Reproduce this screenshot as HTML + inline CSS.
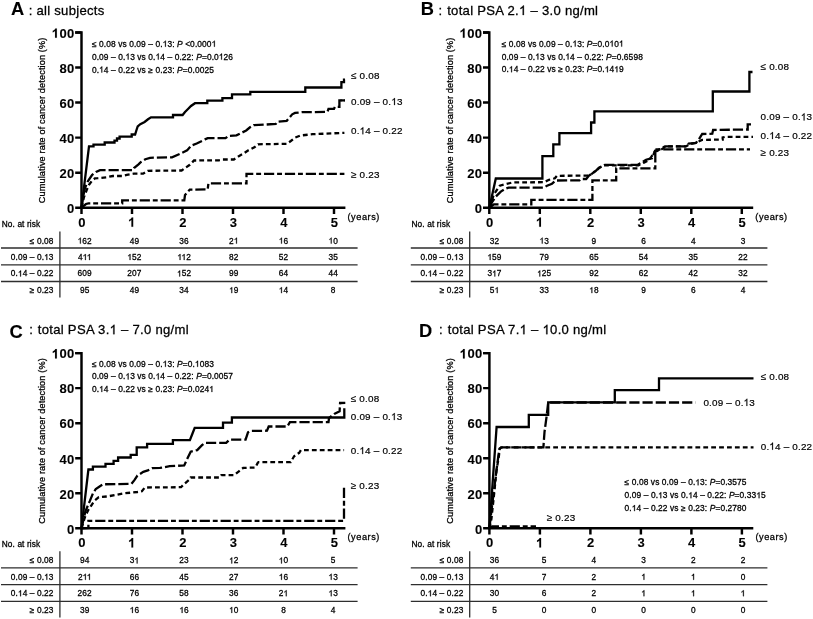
<!DOCTYPE html>
<html><head><meta charset="utf-8"><style>
html,body{margin:0;padding:0;background:#fff;}
svg{display:block;will-change:transform;filter:blur(0.3px);}
text{font-family:"Liberation Sans", sans-serif;fill:#000;stroke:#000;stroke-width:0.28px;}
text[font-weight=bold]{stroke-width:0.1px;}
</style></head><body>
<svg width="813" height="619" viewBox="0 0 813 619">
<rect width="813" height="619" fill="#fff"/>
<text x="11.10" y="15.40" font-size="18.3" font-weight="bold" >A</text>
<text x="28.80" y="14.90" font-size="13.1" letter-spacing="0.28"  class="f1">:</text>
<text x="36.45" y="14.90" font-size="13.1" letter-spacing="0.28"  class="f1">all subjects</text>
<text transform="translate(44.90,120.40) rotate(-90)" text-anchor="middle" font-size="9.2" letter-spacing="0.11">Cumulative rate of cancer detection (%)</text>
<path d="M75.20,32.50H81.5V207.7H345.40" fill="none" stroke="#000" stroke-width="2.45"/>
<path d="M75.20,207.70H81.5 M75.20,172.66H81.5 M75.20,137.62H81.5 M75.20,102.58H81.5 M75.20,67.54H81.5 M75.20,32.50H81.5 M81.50,207.7V214.00 M132.00,207.7V214.00 M182.50,207.7V214.00 M233.00,207.7V214.00 M283.50,207.7V214.00 M334.00,207.7V214.00" stroke="#000" stroke-width="2.45" fill="none"/>
<text x="74.60" y="213.00" font-size="13" font-weight="bold" letter-spacing="0.3" text-anchor="end" >0</text>
<text x="74.60" y="177.96" font-size="13" font-weight="bold" letter-spacing="0.3" text-anchor="end" >20</text>
<text x="74.60" y="142.92" font-size="13" font-weight="bold" letter-spacing="0.3" text-anchor="end" >40</text>
<text x="74.60" y="107.88" font-size="13" font-weight="bold" letter-spacing="0.3" text-anchor="end" >60</text>
<text x="74.60" y="72.84" font-size="13" font-weight="bold" letter-spacing="0.3" text-anchor="end" >80</text>
<text x="74.60" y="37.80" font-size="13" font-weight="bold" letter-spacing="0.3" text-anchor="end" >00</text>
<path transform="translate(51.76,37.80) scale(0.00635,-0.00635)" d="M800 0H519V1059C416 963 294 892 156 846V1101C229 1125 308 1170 393 1236C478 1303 537 1381 570 1472H800Z" fill="#000" stroke="#000" stroke-width="15.8"/>
<text x="81.95" y="226.80" font-size="13" font-weight="bold" letter-spacing="0.3" text-anchor="middle" >0</text>
<path transform="translate(128.11,226.80) scale(0.00635,-0.00635)" d="M800 0H519V1059C416 963 294 892 156 846V1101C229 1125 308 1170 393 1236C478 1303 537 1381 570 1472H800Z" fill="#000" stroke="#000" stroke-width="15.8"/>
<text x="182.95" y="226.80" font-size="13" font-weight="bold" letter-spacing="0.3" text-anchor="middle" >2</text>
<text x="233.45" y="226.80" font-size="13" font-weight="bold" letter-spacing="0.3" text-anchor="middle" >3</text>
<text x="283.95" y="226.80" font-size="13" font-weight="bold" letter-spacing="0.3" text-anchor="middle" >4</text>
<text x="334.45" y="226.80" font-size="13" font-weight="bold" letter-spacing="0.3" text-anchor="middle" >5</text>
<text x="347.50" y="219.70" font-size="9.2" letter-spacing="0.55"  class="f1">(years)</text>
<text x="91.90" y="46.70" font-size="8.4" letter-spacing="0.1"  class="f1">≤ 0.08 vs 0.09 – 0. 3: <tspan font-style="italic">P</tspan> &lt;0.000 </text>
<text x="91.90" y="59.60" font-size="8.4" letter-spacing="0.1"  class="f1">0.09 – 0. 3 vs 0. 4 – 0.22: <tspan font-style="italic">P</tspan>=0.0 26</text>
<text x="91.90" y="72.50" font-size="8.4" letter-spacing="0.1"  class="f1">0. 4 – 0.22 vs ≥ 0.23: <tspan font-style="italic">P</tspan>=0.0025</text>
<text x="351.00" y="79.30" font-size="9.9" letter-spacing="0.2" style="stroke-width:0.2px"  class="f1">≤ 0.08</text>
<text x="351.00" y="105.10" font-size="9.9" letter-spacing="0.2" style="stroke-width:0.2px"  class="f1">0.09 – 0. 3</text>
<text x="351.00" y="134.30" font-size="9.9" letter-spacing="0.2" style="stroke-width:0.2px"  class="f1">0. 4 – 0.22</text>
<text x="351.00" y="178.40" font-size="9.9" letter-spacing="0.2" style="stroke-width:0.2px"  class="f1">≥ 0.23</text>
<path d="M81.50,207.70 L89.00,146.40 L93.50,146.40 L93.50,144.60 L104.70,144.60 L104.70,142.50 L114.50,142.50 L114.50,140.60 L117.00,140.60 L117.00,138.50 L119.60,138.50 L119.60,136.70 L131.70,136.70 L131.70,134.50 L135.10,134.50 L136.50,130.00 L137.70,126.40 L140.30,124.20 L144.60,122.00 L148.00,119.30 L151.00,117.40 L173.00,117.40 L173.00,115.00 L182.60,115.00 L185.00,112.00 L188.00,109.00 L191.00,106.00 L195.00,103.20 L207.30,103.20 L207.30,100.60 L222.40,100.60 L222.40,98.10 L232.00,98.10 L232.00,94.40 L250.30,94.40 L250.30,91.80 L305.30,91.80 L305.30,87.50 L341.40,87.50 L341.40,82.20 L344.00,82.20 L344.00,79.60 L345.00,79.60" fill="none" stroke="#000" stroke-width="2.3" />
<path d="M81.50,207.70 L83.00,197.00 L85.00,188.00 L88.00,181.00 L92.00,175.00 L96.00,172.00 L100.00,170.20 L132.70,170.20 L134.00,168.00 L138.50,164.40 L141.00,162.00 L145.40,159.20 L150.00,157.80 L172.00,157.30 L180.20,153.80 L187.10,150.40 L191.20,145.60 L196.70,143.50 L205.00,139.40 L207.70,138.20 L225.50,138.20 L228.30,136.00 L236.50,135.30 L240.70,133.20 L246.20,130.50 L250.00,127.30 L253.70,125.20 L275.70,124.00 L277.10,121.80 L286.70,120.80 L292.20,114.30 L295.00,112.90 L301.80,112.20 L327.50,111.90 L328.50,108.80 L334.00,108.80 L335.00,106.80 L339.40,106.80 L339.40,100.40 L345.00,100.40" fill="none" stroke="#000" stroke-width="2.3" stroke-dasharray="10.2,3"/>
<path d="M81.50,207.70 L84.00,197.00 L86.70,190.00 L89.00,184.80 L92.00,180.70 L94.90,178.40 L97.80,178.20 L107.00,177.20 L112.90,176.00 L122.20,176.00 L126.80,174.90 L133.80,173.70 L143.10,173.70 L147.80,170.80 L181.60,170.50 L185.70,167.60 L189.80,164.80 L194.00,160.50 L218.70,160.30 L222.80,159.50 L233.80,159.50 L238.40,156.40 L243.90,153.30 L248.00,150.50 L254.40,147.30 L258.00,144.30 L286.70,143.80 L290.80,141.00 L295.00,137.60 L300.40,135.50 L312.80,134.20 L344.40,132.80" fill="none" stroke="#000" stroke-width="2.3" stroke-dasharray="4.8,3.1"/>
<path d="M340.60,100.40 L345.00,100.40" fill="none" stroke="#000" stroke-width="2.3" stroke-dasharray="10.2,3"/>
<path d="M81.50,207.70 L86.00,204.00 L88.50,203.40 L122.20,203.40 L122.20,200.30 L184.30,200.30 L185.00,195.00 L189.80,189.60 L207.70,189.40 L208.40,183.40 L246.50,183.40 L246.50,173.80 L344.40,173.80" fill="none" stroke="#000" stroke-width="2.3" stroke-dasharray="10.2,2.9,4.9,2.9"/>
<text x="1.70" y="226.60" font-size="8.3" letter-spacing="0.12"  class="f1">No. at risk</text>
<text x="53.60" y="243.60" font-size="8.3" letter-spacing="0.12" text-anchor="end"  class="f1">≤ 0.08</text>
<text x="84.70" y="243.60" font-size="8.3" letter-spacing="0.12" text-anchor="middle"  class="f1"> 62</text>
<text x="134.40" y="243.60" font-size="8.3" letter-spacing="0.12" text-anchor="middle"  class="f1">49</text>
<text x="184.10" y="243.60" font-size="8.3" letter-spacing="0.12" text-anchor="middle"  class="f1">36</text>
<text x="233.80" y="243.60" font-size="8.3" letter-spacing="0.12" text-anchor="middle"  class="f1">2 </text>
<text x="283.50" y="243.60" font-size="8.3" letter-spacing="0.12" text-anchor="middle"  class="f1"> 6</text>
<text x="333.20" y="243.60" font-size="8.3" letter-spacing="0.12" text-anchor="middle"  class="f1"> 0</text>
<text x="53.60" y="260.00" font-size="8.3" letter-spacing="0.12" text-anchor="end"  class="f1">0.09 – 0. 3</text>
<text x="84.70" y="260.00" font-size="8.3" letter-spacing="0.12" text-anchor="middle"  class="f1">4 <tspan dx="-0.616"> </tspan></text>
<text x="134.40" y="260.00" font-size="8.3" letter-spacing="0.12" text-anchor="middle"  class="f1"> 52</text>
<text x="184.10" y="260.00" font-size="8.3" letter-spacing="0.12" text-anchor="middle"  class="f1"> <tspan dx="-0.616"> </tspan>2</text>
<text x="233.80" y="260.00" font-size="8.3" letter-spacing="0.12" text-anchor="middle"  class="f1">82</text>
<text x="283.50" y="260.00" font-size="8.3" letter-spacing="0.12" text-anchor="middle"  class="f1">52</text>
<text x="333.20" y="260.00" font-size="8.3" letter-spacing="0.12" text-anchor="middle"  class="f1">35</text>
<text x="53.60" y="276.40" font-size="8.3" letter-spacing="0.12" text-anchor="end"  class="f1">0. 4 – 0.22</text>
<text x="84.70" y="276.40" font-size="8.3" letter-spacing="0.12" text-anchor="middle"  class="f1">609</text>
<text x="134.40" y="276.40" font-size="8.3" letter-spacing="0.12" text-anchor="middle"  class="f1">207</text>
<text x="184.10" y="276.40" font-size="8.3" letter-spacing="0.12" text-anchor="middle"  class="f1"> 52</text>
<text x="233.80" y="276.40" font-size="8.3" letter-spacing="0.12" text-anchor="middle"  class="f1">99</text>
<text x="283.50" y="276.40" font-size="8.3" letter-spacing="0.12" text-anchor="middle"  class="f1">64</text>
<text x="333.20" y="276.40" font-size="8.3" letter-spacing="0.12" text-anchor="middle"  class="f1">44</text>
<text x="53.60" y="293.10" font-size="8.3" letter-spacing="0.12" text-anchor="end"  class="f1">≥ 0.23</text>
<text x="84.70" y="293.10" font-size="8.3" letter-spacing="0.12" text-anchor="middle"  class="f1">95</text>
<text x="134.40" y="293.10" font-size="8.3" letter-spacing="0.12" text-anchor="middle"  class="f1">49</text>
<text x="184.10" y="293.10" font-size="8.3" letter-spacing="0.12" text-anchor="middle"  class="f1">34</text>
<text x="233.80" y="293.10" font-size="8.3" letter-spacing="0.12" text-anchor="middle"  class="f1"> 9</text>
<text x="283.50" y="293.10" font-size="8.3" letter-spacing="0.12" text-anchor="middle"  class="f1"> 4</text>
<text x="333.20" y="293.10" font-size="8.3" letter-spacing="0.12" text-anchor="middle"  class="f1">8</text>
<path d="M1.00,248.00H357.60 M1.00,264.80H357.60 M1.00,281.50H357.60" stroke="#2e2e2e" stroke-width="1.3" fill="none"/>
<path d="M59.90,231.50V297.60" stroke="#2e2e2e" stroke-width="1.3" fill="none"/>
<text x="420.70" y="15.20" font-size="18.3" font-weight="bold" >B</text>
<text x="438.60" y="15.00" font-size="13.1" letter-spacing="0.28"  class="f1">:</text>
<text x="447.20" y="15.00" font-size="13.1" letter-spacing="0.28"  class="f1">total PSA 2.  – 3.0 ng/ml</text>
<text transform="translate(452.70,120.40) rotate(-90)" text-anchor="middle" font-size="9.2" letter-spacing="0.11">Cumulative rate of cancer detection (%)</text>
<path d="M483.00,32.50H489.3V207.7H753.20" fill="none" stroke="#000" stroke-width="2.45"/>
<path d="M483.00,207.70H489.3 M483.00,172.66H489.3 M483.00,137.62H489.3 M483.00,102.58H489.3 M483.00,67.54H489.3 M483.00,32.50H489.3 M489.30,207.7V214.00 M539.80,207.7V214.00 M590.30,207.7V214.00 M640.80,207.7V214.00 M691.30,207.7V214.00 M741.80,207.7V214.00" stroke="#000" stroke-width="2.45" fill="none"/>
<text x="482.40" y="213.00" font-size="13" font-weight="bold" letter-spacing="0.3" text-anchor="end" >0</text>
<text x="482.40" y="177.96" font-size="13" font-weight="bold" letter-spacing="0.3" text-anchor="end" >20</text>
<text x="482.40" y="142.92" font-size="13" font-weight="bold" letter-spacing="0.3" text-anchor="end" >40</text>
<text x="482.40" y="107.88" font-size="13" font-weight="bold" letter-spacing="0.3" text-anchor="end" >60</text>
<text x="482.40" y="72.84" font-size="13" font-weight="bold" letter-spacing="0.3" text-anchor="end" >80</text>
<text x="482.40" y="37.80" font-size="13" font-weight="bold" letter-spacing="0.3" text-anchor="end" >00</text>
<path transform="translate(459.56,37.80) scale(0.00635,-0.00635)" d="M800 0H519V1059C416 963 294 892 156 846V1101C229 1125 308 1170 393 1236C478 1303 537 1381 570 1472H800Z" fill="#000" stroke="#000" stroke-width="15.8"/>
<text x="489.75" y="226.80" font-size="13" font-weight="bold" letter-spacing="0.3" text-anchor="middle" >0</text>
<path transform="translate(535.91,226.80) scale(0.00635,-0.00635)" d="M800 0H519V1059C416 963 294 892 156 846V1101C229 1125 308 1170 393 1236C478 1303 537 1381 570 1472H800Z" fill="#000" stroke="#000" stroke-width="15.8"/>
<text x="590.75" y="226.80" font-size="13" font-weight="bold" letter-spacing="0.3" text-anchor="middle" >2</text>
<text x="641.25" y="226.80" font-size="13" font-weight="bold" letter-spacing="0.3" text-anchor="middle" >3</text>
<text x="691.75" y="226.80" font-size="13" font-weight="bold" letter-spacing="0.3" text-anchor="middle" >4</text>
<text x="742.25" y="226.80" font-size="13" font-weight="bold" letter-spacing="0.3" text-anchor="middle" >5</text>
<text x="755.30" y="219.70" font-size="9.2" letter-spacing="0.55"  class="f1">(years)</text>
<text x="501.70" y="46.60" font-size="8.4" letter-spacing="0.1"  class="f1">≤ 0.08 vs 0.09 – 0. 3: <tspan font-style="italic">P</tspan>=0.0 0 </text>
<text x="501.70" y="59.60" font-size="8.4" letter-spacing="0.1"  class="f1">0.09 – 0. 3 vs 0. 4 – 0.22: <tspan font-style="italic">P</tspan>=0.6598</text>
<text x="501.70" y="72.20" font-size="8.4" letter-spacing="0.1"  class="f1">0. 4 – 0.22 vs ≥ 0.23: <tspan font-style="italic">P</tspan>=0. 4 9</text>
<text x="760.60" y="70.20" font-size="9.9" letter-spacing="0.2" style="stroke-width:0.2px"  class="f1">≤ 0.08</text>
<text x="760.60" y="120.40" font-size="9.9" letter-spacing="0.2" style="stroke-width:0.2px"  class="f1">0.09 – 0. 3</text>
<text x="760.60" y="139.10" font-size="9.9" letter-spacing="0.2" style="stroke-width:0.2px"  class="f1">0. 4 – 0.22</text>
<text x="760.60" y="155.50" font-size="9.9" letter-spacing="0.2" style="stroke-width:0.2px"  class="f1">≥ 0.23</text>
<path d="M489.40,207.70 L495.80,178.50 L542.40,178.50 L542.40,156.10 L553.30,156.10 L553.30,144.40 L559.40,144.40 L559.40,133.20 L591.10,133.20 L591.10,122.50 L594.40,122.50 L594.40,111.30 L712.80,111.30 L712.80,91.50 L749.40,91.50 L749.40,72.00 L752.50,72.00" fill="none" stroke="#000" stroke-width="2.3" />
<path d="M489.40,207.70 L491.90,202.40 L495.80,196.50 L500.80,191.60 L505.70,188.60 L508.60,187.60 L544.00,187.60 L547.00,185.70 L552.00,183.70 L554.90,181.20 L556.00,180.50 L579.40,180.40 L580.70,179.00 L586.20,179.00 L589.00,175.60 L595.90,170.80 L598.90,167.80 L604.80,164.90 L637.20,164.90 L641.70,162.60 L646.10,159.70 L652.00,158.20 L655.00,150.80 L657.90,150.10 L662.30,147.90 L665.00,146.40 L686.00,146.40 L688.70,143.50 L696.10,142.80 L699.00,139.10 L702.20,134.00 L712.30,133.70 L713.10,130.00 L747.70,129.50 L747.70,124.40 L751.00,124.40" fill="none" stroke="#000" stroke-width="2.3" stroke-dasharray="10.2,3"/>
<path d="M489.40,207.70 L493.90,194.50 L497.80,188.60 L499.80,185.70 L505.70,184.20 L512.60,182.40 L544.00,182.20 L549.00,179.80 L554.90,178.30 L556.90,175.80 L587.60,175.60 L590.30,175.00 L595.80,170.80 L600.00,167.40 L604.10,165.30 L638.40,165.30 L643.90,162.60 L649.40,159.80 L654.90,151.60 L660.40,150.20 L665.90,146.40 L686.00,146.40 L690.00,144.00 L696.10,142.80 L702.00,139.90 L722.70,139.50 L722.70,137.50 L725.00,136.90 L753.00,136.90" fill="none" stroke="#000" stroke-width="2.3" stroke-dasharray="4.8,3.1"/>
<path d="M489.40,207.70 L493.90,204.40 L531.30,204.40 L531.30,199.80 L592.40,199.80 L592.40,180.40 L616.20,180.40 L616.20,168.30 L655.30,168.30 L655.30,149.40 L750.00,149.40" fill="none" stroke="#000" stroke-width="2.3" stroke-dasharray="10.2,2.9,4.9,2.9"/>
<text x="411.50" y="226.60" font-size="8.3" letter-spacing="0.12"  class="f1">No. at risk</text>
<text x="463.40" y="243.60" font-size="8.3" letter-spacing="0.12" text-anchor="end"  class="f1">≤ 0.08</text>
<text x="494.50" y="243.60" font-size="8.3" letter-spacing="0.12" text-anchor="middle"  class="f1">32</text>
<text x="544.20" y="243.60" font-size="8.3" letter-spacing="0.12" text-anchor="middle"  class="f1"> 3</text>
<text x="593.90" y="243.60" font-size="8.3" letter-spacing="0.12" text-anchor="middle"  class="f1">9</text>
<text x="643.60" y="243.60" font-size="8.3" letter-spacing="0.12" text-anchor="middle"  class="f1">6</text>
<text x="693.30" y="243.60" font-size="8.3" letter-spacing="0.12" text-anchor="middle"  class="f1">4</text>
<text x="743.00" y="243.60" font-size="8.3" letter-spacing="0.12" text-anchor="middle"  class="f1">3</text>
<text x="463.40" y="260.00" font-size="8.3" letter-spacing="0.12" text-anchor="end"  class="f1">0.09 – 0. 3</text>
<text x="494.50" y="260.00" font-size="8.3" letter-spacing="0.12" text-anchor="middle"  class="f1"> 59</text>
<text x="544.20" y="260.00" font-size="8.3" letter-spacing="0.12" text-anchor="middle"  class="f1">79</text>
<text x="593.90" y="260.00" font-size="8.3" letter-spacing="0.12" text-anchor="middle"  class="f1">65</text>
<text x="643.60" y="260.00" font-size="8.3" letter-spacing="0.12" text-anchor="middle"  class="f1">54</text>
<text x="693.30" y="260.00" font-size="8.3" letter-spacing="0.12" text-anchor="middle"  class="f1">35</text>
<text x="743.00" y="260.00" font-size="8.3" letter-spacing="0.12" text-anchor="middle"  class="f1">22</text>
<text x="463.40" y="276.40" font-size="8.3" letter-spacing="0.12" text-anchor="end"  class="f1">0. 4 – 0.22</text>
<text x="494.50" y="276.40" font-size="8.3" letter-spacing="0.12" text-anchor="middle"  class="f1">3 7</text>
<text x="544.20" y="276.40" font-size="8.3" letter-spacing="0.12" text-anchor="middle"  class="f1"> 25</text>
<text x="593.90" y="276.40" font-size="8.3" letter-spacing="0.12" text-anchor="middle"  class="f1">92</text>
<text x="643.60" y="276.40" font-size="8.3" letter-spacing="0.12" text-anchor="middle"  class="f1">62</text>
<text x="693.30" y="276.40" font-size="8.3" letter-spacing="0.12" text-anchor="middle"  class="f1">42</text>
<text x="743.00" y="276.40" font-size="8.3" letter-spacing="0.12" text-anchor="middle"  class="f1">32</text>
<text x="463.40" y="293.10" font-size="8.3" letter-spacing="0.12" text-anchor="end"  class="f1">≥ 0.23</text>
<text x="494.50" y="293.10" font-size="8.3" letter-spacing="0.12" text-anchor="middle"  class="f1">5 </text>
<text x="544.20" y="293.10" font-size="8.3" letter-spacing="0.12" text-anchor="middle"  class="f1">33</text>
<text x="593.90" y="293.10" font-size="8.3" letter-spacing="0.12" text-anchor="middle"  class="f1"> 8</text>
<text x="643.60" y="293.10" font-size="8.3" letter-spacing="0.12" text-anchor="middle"  class="f1">9</text>
<text x="693.30" y="293.10" font-size="8.3" letter-spacing="0.12" text-anchor="middle"  class="f1">6</text>
<text x="743.00" y="293.10" font-size="8.3" letter-spacing="0.12" text-anchor="middle"  class="f1">4</text>
<path d="M410.80,248.00H767.40 M410.80,264.80H767.40 M410.80,281.50H767.40" stroke="#2e2e2e" stroke-width="1.3" fill="none"/>
<path d="M469.70,231.50V297.60" stroke="#2e2e2e" stroke-width="1.3" fill="none"/>
<text x="9.40" y="337.90" font-size="18.3" font-weight="bold" >C</text>
<text x="29.30" y="334.20" font-size="13.1" letter-spacing="0.28"  class="f1">:</text>
<text x="37.80" y="334.20" font-size="13.1" letter-spacing="0.28"  class="f1">total PSA 3.  – 7.0 ng/ml</text>
<text transform="translate(44.90,441.00) rotate(-90)" text-anchor="middle" font-size="9.2" letter-spacing="0.11">Cumulative rate of cancer detection (%)</text>
<path d="M75.20,353.10H81.5V528.3H345.40" fill="none" stroke="#000" stroke-width="2.45"/>
<path d="M75.20,528.30H81.5 M75.20,493.26H81.5 M75.20,458.22H81.5 M75.20,423.18H81.5 M75.20,388.14H81.5 M75.20,353.10H81.5 M81.50,528.3V534.60 M132.00,528.3V534.60 M182.50,528.3V534.60 M233.00,528.3V534.60 M283.50,528.3V534.60 M334.00,528.3V534.60" stroke="#000" stroke-width="2.45" fill="none"/>
<text x="74.60" y="533.60" font-size="13" font-weight="bold" letter-spacing="0.3" text-anchor="end" >0</text>
<text x="74.60" y="498.56" font-size="13" font-weight="bold" letter-spacing="0.3" text-anchor="end" >20</text>
<text x="74.60" y="463.52" font-size="13" font-weight="bold" letter-spacing="0.3" text-anchor="end" >40</text>
<text x="74.60" y="428.48" font-size="13" font-weight="bold" letter-spacing="0.3" text-anchor="end" >60</text>
<text x="74.60" y="393.44" font-size="13" font-weight="bold" letter-spacing="0.3" text-anchor="end" >80</text>
<text x="74.60" y="358.40" font-size="13" font-weight="bold" letter-spacing="0.3" text-anchor="end" >00</text>
<path transform="translate(51.76,358.40) scale(0.00635,-0.00635)" d="M800 0H519V1059C416 963 294 892 156 846V1101C229 1125 308 1170 393 1236C478 1303 537 1381 570 1472H800Z" fill="#000" stroke="#000" stroke-width="15.8"/>
<text x="81.95" y="547.40" font-size="13" font-weight="bold" letter-spacing="0.3" text-anchor="middle" >0</text>
<path transform="translate(128.11,547.40) scale(0.00635,-0.00635)" d="M800 0H519V1059C416 963 294 892 156 846V1101C229 1125 308 1170 393 1236C478 1303 537 1381 570 1472H800Z" fill="#000" stroke="#000" stroke-width="15.8"/>
<text x="182.95" y="547.40" font-size="13" font-weight="bold" letter-spacing="0.3" text-anchor="middle" >2</text>
<text x="233.45" y="547.40" font-size="13" font-weight="bold" letter-spacing="0.3" text-anchor="middle" >3</text>
<text x="283.95" y="547.40" font-size="13" font-weight="bold" letter-spacing="0.3" text-anchor="middle" >4</text>
<text x="334.45" y="547.40" font-size="13" font-weight="bold" letter-spacing="0.3" text-anchor="middle" >5</text>
<text x="347.50" y="540.30" font-size="9.2" letter-spacing="0.55"  class="f1">(years)</text>
<text x="91.90" y="366.80" font-size="8.4" letter-spacing="0.1"  class="f1">≤ 0.08 vs 0.09 – 0. 3: <tspan font-style="italic">P</tspan>=0. 083</text>
<text x="91.90" y="379.40" font-size="8.4" letter-spacing="0.1"  class="f1">0.09 – 0. 3 vs 0. 4 – 0.22: <tspan font-style="italic">P</tspan>=0.0057</text>
<text x="91.90" y="392.00" font-size="8.4" letter-spacing="0.1"  class="f1">0. 4 – 0.22 vs ≥ 0.23: <tspan font-style="italic">P</tspan>=0.024 </text>
<text x="350.80" y="401.60" font-size="9.9" letter-spacing="0.2" style="stroke-width:0.2px"  class="f1">≤ 0.08</text>
<text x="350.80" y="420.10" font-size="9.9" letter-spacing="0.2" style="stroke-width:0.2px"  class="f1">0.09 – 0. 3</text>
<text x="350.80" y="454.10" font-size="9.9" letter-spacing="0.2" style="stroke-width:0.2px"  class="f1">0. 4 – 0.22</text>
<text x="350.80" y="488.50" font-size="9.9" letter-spacing="0.2" style="stroke-width:0.2px"  class="f1">≥ 0.23</text>
<path d="M81.50,528.30 L88.40,469.50 L92.90,469.50 L92.90,466.70 L105.50,466.70 L105.50,463.80 L113.60,463.80 L113.60,460.80 L118.10,460.80 L118.10,457.50 L130.70,457.50 L130.70,454.90 L136.70,454.90 L136.70,447.40 L147.10,447.40 L147.10,443.90 L172.90,443.90 L172.90,440.10 L189.90,440.10 L192.30,434.00 L194.70,427.80 L223.00,427.80 L223.00,422.60 L231.90,422.60 L231.90,417.50 L344.30,417.50 L344.30,408.30" fill="none" stroke="#000" stroke-width="2.3" />
<path d="M81.50,528.30 L85.40,511.30 L89.90,500.90 L92.90,493.50 L95.80,489.00 L100.30,486.00 L103.20,484.30 L131.50,483.80 L134.40,480.10 L137.40,475.60 L143.30,471.90 L147.80,470.40 L152.30,468.20 L160.00,467.90 L169.70,466.20 L184.20,465.40 L187.50,458.20 L190.70,451.70 L197.20,450.10 L202.00,445.20 L205.20,442.80 L226.20,442.80 L229.50,439.60 L245.60,439.60 L248.00,432.30 L250.50,431.00 L267.00,430.70 L268.70,426.50 L287.30,426.50 L289.90,422.20 L328.50,422.20 L329.00,418.00 L334.70,413.70 L339.60,411.30 L340.10,403.00 L345.30,402.90" fill="none" stroke="#000" stroke-width="2.3" stroke-dasharray="10.2,3"/>
<path d="M81.50,528.30 L85.40,515.70 L88.40,509.80 L91.40,505.30 L94.30,500.90 L98.80,497.20 L107.70,496.40 L115.10,495.00 L122.60,493.50 L137.40,492.00 L141.90,491.20 L144.80,487.50 L181.00,487.20 L184.20,484.00 L189.90,479.20 L190.70,477.50 L219.80,477.50 L221.40,475.10 L234.30,475.10 L239.20,471.10 L243.20,467.90 L255.30,467.50 L257.70,463.00 L258.50,462.10 L290.70,462.10 L294.10,456.20 L299.20,452.80 L300.90,450.20 L344.10,450.20" fill="none" stroke="#000" stroke-width="2.3" stroke-dasharray="4.8,3.1"/>
<path d="M81.50,528.30 L88.40,528.00 L88.40,520.80 L344.00,520.80 L344.00,487.20" fill="none" stroke="#000" stroke-width="2.3" stroke-dasharray="10.2,2.9,4.9,2.9"/>
<text x="1.70" y="547.00" font-size="8.3" letter-spacing="0.12"  class="f1">No. at risk</text>
<text x="53.60" y="563.40" font-size="8.3" letter-spacing="0.12" text-anchor="end"  class="f1">≤ 0.08</text>
<text x="84.70" y="563.40" font-size="8.3" letter-spacing="0.12" text-anchor="middle"  class="f1">94</text>
<text x="134.40" y="563.40" font-size="8.3" letter-spacing="0.12" text-anchor="middle"  class="f1">3 </text>
<text x="184.10" y="563.40" font-size="8.3" letter-spacing="0.12" text-anchor="middle"  class="f1">23</text>
<text x="233.80" y="563.40" font-size="8.3" letter-spacing="0.12" text-anchor="middle"  class="f1"> 2</text>
<text x="283.50" y="563.40" font-size="8.3" letter-spacing="0.12" text-anchor="middle"  class="f1"> 0</text>
<text x="333.20" y="563.40" font-size="8.3" letter-spacing="0.12" text-anchor="middle"  class="f1">5</text>
<text x="53.60" y="579.80" font-size="8.3" letter-spacing="0.12" text-anchor="end"  class="f1">0.09 – 0. 3</text>
<text x="84.70" y="579.80" font-size="8.3" letter-spacing="0.12" text-anchor="middle"  class="f1">2 <tspan dx="-0.616"> </tspan></text>
<text x="134.40" y="579.80" font-size="8.3" letter-spacing="0.12" text-anchor="middle"  class="f1">66</text>
<text x="184.10" y="579.80" font-size="8.3" letter-spacing="0.12" text-anchor="middle"  class="f1">45</text>
<text x="233.80" y="579.80" font-size="8.3" letter-spacing="0.12" text-anchor="middle"  class="f1">27</text>
<text x="283.50" y="579.80" font-size="8.3" letter-spacing="0.12" text-anchor="middle"  class="f1"> 6</text>
<text x="333.20" y="579.80" font-size="8.3" letter-spacing="0.12" text-anchor="middle"  class="f1"> 3</text>
<text x="53.60" y="596.20" font-size="8.3" letter-spacing="0.12" text-anchor="end"  class="f1">0. 4 – 0.22</text>
<text x="84.70" y="596.20" font-size="8.3" letter-spacing="0.12" text-anchor="middle"  class="f1">262</text>
<text x="134.40" y="596.20" font-size="8.3" letter-spacing="0.12" text-anchor="middle"  class="f1">76</text>
<text x="184.10" y="596.20" font-size="8.3" letter-spacing="0.12" text-anchor="middle"  class="f1">58</text>
<text x="233.80" y="596.20" font-size="8.3" letter-spacing="0.12" text-anchor="middle"  class="f1">36</text>
<text x="283.50" y="596.20" font-size="8.3" letter-spacing="0.12" text-anchor="middle"  class="f1">2 </text>
<text x="333.20" y="596.20" font-size="8.3" letter-spacing="0.12" text-anchor="middle"  class="f1"> 3</text>
<text x="53.60" y="612.90" font-size="8.3" letter-spacing="0.12" text-anchor="end"  class="f1">≥ 0.23</text>
<text x="84.70" y="612.90" font-size="8.3" letter-spacing="0.12" text-anchor="middle"  class="f1">39</text>
<text x="134.40" y="612.90" font-size="8.3" letter-spacing="0.12" text-anchor="middle"  class="f1"> 6</text>
<text x="184.10" y="612.90" font-size="8.3" letter-spacing="0.12" text-anchor="middle"  class="f1"> 6</text>
<text x="233.80" y="612.90" font-size="8.3" letter-spacing="0.12" text-anchor="middle"  class="f1"> 0</text>
<text x="283.50" y="612.90" font-size="8.3" letter-spacing="0.12" text-anchor="middle"  class="f1">8</text>
<text x="333.20" y="612.90" font-size="8.3" letter-spacing="0.12" text-anchor="middle"  class="f1">4</text>
<path d="M1.00,567.80H357.60 M1.00,584.60H357.60 M1.00,601.30H357.60" stroke="#2e2e2e" stroke-width="1.3" fill="none"/>
<path d="M59.90,551.30V617.40" stroke="#2e2e2e" stroke-width="1.3" fill="none"/>
<text x="419.10" y="336.90" font-size="18.3" font-weight="bold" >D</text>
<text x="439.00" y="334.20" font-size="13.1" letter-spacing="0.28"  class="f1">:</text>
<text x="447.80" y="334.20" font-size="13.1" letter-spacing="0.28"  class="f1">total PSA 7.  –  0.0 ng/ml</text>
<text transform="translate(452.80,441.00) rotate(-90)" text-anchor="middle" font-size="9.2" letter-spacing="0.11">Cumulative rate of cancer detection (%)</text>
<path d="M483.10,353.10H489.4V528.3H753.30" fill="none" stroke="#000" stroke-width="2.45"/>
<path d="M483.10,528.30H489.4 M483.10,493.26H489.4 M483.10,458.22H489.4 M483.10,423.18H489.4 M483.10,388.14H489.4 M483.10,353.10H489.4 M489.40,528.3V534.60 M539.90,528.3V534.60 M590.40,528.3V534.60 M640.90,528.3V534.60 M691.40,528.3V534.60 M741.90,528.3V534.60" stroke="#000" stroke-width="2.45" fill="none"/>
<text x="482.50" y="533.60" font-size="13" font-weight="bold" letter-spacing="0.3" text-anchor="end" >0</text>
<text x="482.50" y="498.56" font-size="13" font-weight="bold" letter-spacing="0.3" text-anchor="end" >20</text>
<text x="482.50" y="463.52" font-size="13" font-weight="bold" letter-spacing="0.3" text-anchor="end" >40</text>
<text x="482.50" y="428.48" font-size="13" font-weight="bold" letter-spacing="0.3" text-anchor="end" >60</text>
<text x="482.50" y="393.44" font-size="13" font-weight="bold" letter-spacing="0.3" text-anchor="end" >80</text>
<text x="482.50" y="358.40" font-size="13" font-weight="bold" letter-spacing="0.3" text-anchor="end" >00</text>
<path transform="translate(459.66,358.40) scale(0.00635,-0.00635)" d="M800 0H519V1059C416 963 294 892 156 846V1101C229 1125 308 1170 393 1236C478 1303 537 1381 570 1472H800Z" fill="#000" stroke="#000" stroke-width="15.8"/>
<text x="489.85" y="547.40" font-size="13" font-weight="bold" letter-spacing="0.3" text-anchor="middle" >0</text>
<path transform="translate(536.01,547.40) scale(0.00635,-0.00635)" d="M800 0H519V1059C416 963 294 892 156 846V1101C229 1125 308 1170 393 1236C478 1303 537 1381 570 1472H800Z" fill="#000" stroke="#000" stroke-width="15.8"/>
<text x="590.85" y="547.40" font-size="13" font-weight="bold" letter-spacing="0.3" text-anchor="middle" >2</text>
<text x="641.35" y="547.40" font-size="13" font-weight="bold" letter-spacing="0.3" text-anchor="middle" >3</text>
<text x="691.85" y="547.40" font-size="13" font-weight="bold" letter-spacing="0.3" text-anchor="middle" >4</text>
<text x="742.35" y="547.40" font-size="13" font-weight="bold" letter-spacing="0.3" text-anchor="middle" >5</text>
<text x="755.40" y="540.30" font-size="9.2" letter-spacing="0.55"  class="f1">(years)</text>
<text x="624.60" y="485.30" font-size="8.4" letter-spacing="0.1"  class="f1">≤ 0.08 vs 0.09 – 0. 3: <tspan font-style="italic">P</tspan>=0.3575</text>
<text x="624.60" y="498.20" font-size="8.4" letter-spacing="0.1"  class="f1">0.09 – 0. 3 vs 0. 4 – 0.22: <tspan font-style="italic">P</tspan>=0.33 5</text>
<text x="624.60" y="511.10" font-size="8.4" letter-spacing="0.1"  class="f1">0. 4 – 0.22 vs ≥ 0.23: <tspan font-style="italic">P</tspan>=0.2780</text>
<text x="760.70" y="380.20" font-size="9.9" letter-spacing="0.2" style="stroke-width:0.2px"  class="f1">≤ 0.08</text>
<text x="703.40" y="405.90" font-size="9.9" letter-spacing="0.2" style="stroke-width:0.2px"  class="f1">0.09 – 0. 3</text>
<text x="760.70" y="449.70" font-size="9.9" letter-spacing="0.2" style="stroke-width:0.2px"  class="f1">0. 4 – 0.22</text>
<text x="546.80" y="521.30" font-size="9.9" letter-spacing="0.2" style="stroke-width:0.2px"  class="f1">≥ 0.23</text>
<path d="M489.40,528.30 L496.60,427.00 L528.80,427.00 L528.80,414.90 L548.20,414.90 L548.20,402.30 L614.80,402.30 L614.80,390.20 L659.00,390.20 L659.00,378.40 L753.50,378.40" fill="none" stroke="#000" stroke-width="2.3" />
<path d="M489.40,528.30 L491.50,510.00 L494.00,490.00 L496.50,470.00 L498.50,455.00 L499.50,449.00 L501.00,447.30 L543.40,447.30 L544.50,432.00 L546.60,416.50 L548.20,402.50 L695.50,402.50" fill="none" stroke="#000" stroke-width="2.3" stroke-dasharray="10.2,3"/>
<path d="M489.40,528.30 L491.40,519.00 L493.90,496.00 L496.40,471.30 L498.90,456.00 L499.70,448.50 L502.20,447.30 L753.50,447.30" fill="none" stroke="#000" stroke-width="2.3" stroke-dasharray="4.8,3.1"/>
<path d="M489.40,528.30 L492.00,526.40 L536.00,526.40" fill="none" stroke="#000" stroke-width="2.3" stroke-dasharray="10.2,2.9,4.9,2.9"/>
<text x="411.50" y="547.00" font-size="8.3" letter-spacing="0.12"  class="f1">No. at risk</text>
<text x="463.40" y="563.40" font-size="8.3" letter-spacing="0.12" text-anchor="end"  class="f1">≤ 0.08</text>
<text x="494.50" y="563.40" font-size="8.3" letter-spacing="0.12" text-anchor="middle"  class="f1">36</text>
<text x="544.20" y="563.40" font-size="8.3" letter-spacing="0.12" text-anchor="middle"  class="f1">5</text>
<text x="593.90" y="563.40" font-size="8.3" letter-spacing="0.12" text-anchor="middle"  class="f1">4</text>
<text x="643.60" y="563.40" font-size="8.3" letter-spacing="0.12" text-anchor="middle"  class="f1">3</text>
<text x="693.30" y="563.40" font-size="8.3" letter-spacing="0.12" text-anchor="middle"  class="f1">2</text>
<text x="743.00" y="563.40" font-size="8.3" letter-spacing="0.12" text-anchor="middle"  class="f1">2</text>
<text x="463.40" y="579.80" font-size="8.3" letter-spacing="0.12" text-anchor="end"  class="f1">0.09 – 0. 3</text>
<text x="494.50" y="579.80" font-size="8.3" letter-spacing="0.12" text-anchor="middle"  class="f1">4 </text>
<text x="544.20" y="579.80" font-size="8.3" letter-spacing="0.12" text-anchor="middle"  class="f1">7</text>
<text x="593.90" y="579.80" font-size="8.3" letter-spacing="0.12" text-anchor="middle"  class="f1">2</text>
<text x="643.60" y="579.80" font-size="8.3" letter-spacing="0.12" text-anchor="middle"  class="f1"> </text>
<text x="693.30" y="579.80" font-size="8.3" letter-spacing="0.12" text-anchor="middle"  class="f1"> </text>
<text x="743.00" y="579.80" font-size="8.3" letter-spacing="0.12" text-anchor="middle"  class="f1">0</text>
<text x="463.40" y="596.20" font-size="8.3" letter-spacing="0.12" text-anchor="end"  class="f1">0. 4 – 0.22</text>
<text x="494.50" y="596.20" font-size="8.3" letter-spacing="0.12" text-anchor="middle"  class="f1">30</text>
<text x="544.20" y="596.20" font-size="8.3" letter-spacing="0.12" text-anchor="middle"  class="f1">6</text>
<text x="593.90" y="596.20" font-size="8.3" letter-spacing="0.12" text-anchor="middle"  class="f1">2</text>
<text x="643.60" y="596.20" font-size="8.3" letter-spacing="0.12" text-anchor="middle"  class="f1"> </text>
<text x="693.30" y="596.20" font-size="8.3" letter-spacing="0.12" text-anchor="middle"  class="f1"> </text>
<text x="743.00" y="596.20" font-size="8.3" letter-spacing="0.12" text-anchor="middle"  class="f1"> </text>
<text x="463.40" y="612.90" font-size="8.3" letter-spacing="0.12" text-anchor="end"  class="f1">≥ 0.23</text>
<text x="494.50" y="612.90" font-size="8.3" letter-spacing="0.12" text-anchor="middle"  class="f1">5</text>
<text x="544.20" y="612.90" font-size="8.3" letter-spacing="0.12" text-anchor="middle"  class="f1">0</text>
<text x="593.90" y="612.90" font-size="8.3" letter-spacing="0.12" text-anchor="middle"  class="f1">0</text>
<text x="643.60" y="612.90" font-size="8.3" letter-spacing="0.12" text-anchor="middle"  class="f1">0</text>
<text x="693.30" y="612.90" font-size="8.3" letter-spacing="0.12" text-anchor="middle"  class="f1">0</text>
<text x="743.00" y="612.90" font-size="8.3" letter-spacing="0.12" text-anchor="middle"  class="f1">0</text>
<path d="M410.80,567.80H767.40 M410.80,584.60H767.40 M410.80,601.30H767.40" stroke="#2e2e2e" stroke-width="1.3" fill="none"/>
<path d="M469.70,551.30V617.40" stroke="#2e2e2e" stroke-width="1.3" fill="none"/>
<defs><path id="o0" transform="scale(0.004053,-0.004053)" d="M763 0H583V1147C518 1085 440 1030 350 984C300 958 258 940 223 930V1104C330 1154 420 1214 492 1284C564 1354 616 1417 647 1472H763Z" stroke-width="69.1"/><path id="o1" transform="scale(0.004102,-0.004102)" d="M763 0H583V1147C518 1085 440 1030 350 984C300 958 258 940 223 930V1104C330 1154 420 1214 492 1284C564 1354 616 1417 647 1472H763Z" stroke-width="68.3"/><path id="o2" transform="scale(0.004834,-0.004834)" d="M763 0H583V1147C518 1085 440 1030 350 984C300 958 258 940 223 930V1104C330 1154 420 1214 492 1284C564 1354 616 1417 647 1472H763Z" stroke-width="41.4"/><path id="o3" transform="scale(0.006396,-0.006396)" d="M763 0H583V1147C518 1085 440 1030 350 984C300 958 258 940 223 930V1104C330 1154 420 1214 492 1284C564 1354 616 1417 647 1472H763Z" stroke-width="43.8"/></defs><g fill="#000" stroke="#000">
<use href="#o1" x="162.63" y="46.70"/>
<use href="#o1" x="211.59" y="46.70"/>
<use href="#o1" x="125.38" y="59.60"/>
<use href="#o1" x="155.51" y="59.60"/>
<use href="#o1" x="218.82" y="59.60"/>
<use href="#o1" x="99.07" y="72.50"/>
<use href="#o2" x="391.22" y="105.10"/>
<use href="#o2" x="359.62" y="134.30"/>
<use href="#o0" x="77.60" y="243.60"/>
<use href="#o0" x="233.78" y="243.60"/>
<use href="#o0" x="278.77" y="243.60"/>
<use href="#o0" x="328.47" y="243.60"/>
<use href="#o0" x="44.12" y="260.00"/>
<use href="#o0" x="82.63" y="260.00"/>
<use href="#o0" x="86.76" y="260.00"/>
<use href="#o0" x="127.30" y="260.00"/>
<use href="#o0" x="177.31" y="260.00"/>
<use href="#o0" x="181.42" y="260.00"/>
<use href="#o0" x="17.91" y="276.40"/>
<use href="#o0" x="177.00" y="276.40"/>
<use href="#o0" x="229.07" y="293.10"/>
<use href="#o0" x="278.77" y="293.10"/>
<use href="#o3" x="518.98" y="15.00"/>
<use href="#o1" x="572.43" y="46.60"/>
<use href="#o1" x="609.43" y="46.60"/>
<use href="#o1" x="618.95" y="46.60"/>
<use href="#o1" x="535.18" y="59.60"/>
<use href="#o1" x="565.31" y="59.60"/>
<use href="#o1" x="508.87" y="72.20"/>
<use href="#o1" x="604.68" y="72.20"/>
<use href="#o1" x="614.20" y="72.20"/>
<use href="#o2" x="800.82" y="120.40"/>
<use href="#o2" x="769.22" y="139.10"/>
<use href="#o0" x="539.47" y="243.60"/>
<use href="#o0" x="453.92" y="260.00"/>
<use href="#o0" x="487.40" y="260.00"/>
<use href="#o0" x="427.71" y="276.40"/>
<use href="#o0" x="492.12" y="276.40"/>
<use href="#o0" x="537.10" y="276.40"/>
<use href="#o0" x="494.48" y="293.10"/>
<use href="#o0" x="589.17" y="293.10"/>
<use href="#o3" x="109.58" y="334.20"/>
<use href="#o1" x="162.63" y="366.80"/>
<use href="#o1" x="194.88" y="366.80"/>
<use href="#o1" x="125.38" y="379.40"/>
<use href="#o1" x="155.51" y="379.40"/>
<use href="#o1" x="99.07" y="392.00"/>
<use href="#o1" x="209.15" y="392.00"/>
<use href="#o2" x="391.02" y="420.10"/>
<use href="#o2" x="359.42" y="454.10"/>
<use href="#o0" x="134.38" y="563.40"/>
<use href="#o0" x="229.07" y="563.40"/>
<use href="#o0" x="278.77" y="563.40"/>
<use href="#o0" x="44.12" y="579.80"/>
<use href="#o0" x="82.63" y="579.80"/>
<use href="#o0" x="86.76" y="579.80"/>
<use href="#o0" x="278.77" y="579.80"/>
<use href="#o0" x="328.47" y="579.80"/>
<use href="#o0" x="17.91" y="596.20"/>
<use href="#o0" x="283.48" y="596.20"/>
<use href="#o0" x="328.47" y="596.20"/>
<use href="#o0" x="129.67" y="612.90"/>
<use href="#o0" x="179.37" y="612.90"/>
<use href="#o0" x="229.07" y="612.90"/>
<use href="#o3" x="519.58" y="334.20"/>
<use href="#o3" x="542.53" y="334.20"/>
<use href="#o1" x="695.33" y="485.30"/>
<use href="#o1" x="658.08" y="498.20"/>
<use href="#o1" x="688.21" y="498.20"/>
<use href="#o1" x="756.29" y="498.20"/>
<use href="#o1" x="631.77" y="511.10"/>
<use href="#o2" x="743.62" y="405.90"/>
<use href="#o2" x="769.33" y="449.70"/>
<use href="#o0" x="453.92" y="579.80"/>
<use href="#o0" x="494.48" y="579.80"/>
<use href="#o0" x="641.23" y="579.80"/>
<use href="#o0" x="690.93" y="579.80"/>
<use href="#o0" x="427.71" y="596.20"/>
<use href="#o0" x="641.23" y="596.20"/>
<use href="#o0" x="690.93" y="596.20"/>
<use href="#o0" x="740.63" y="596.20"/>
</g>
</svg>
</body></html>
